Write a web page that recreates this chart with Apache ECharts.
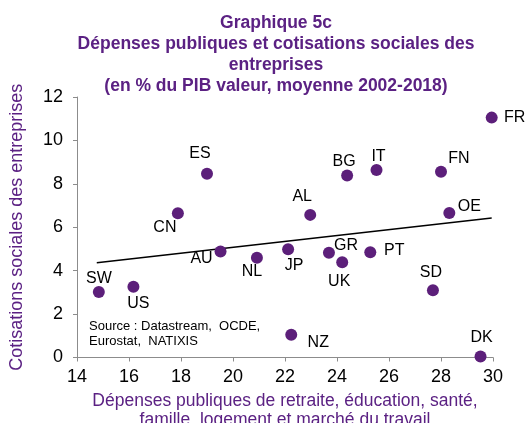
<!DOCTYPE html>
<html>
<head>
<meta charset="utf-8">
<script src="https://cdn.jsdelivr.net/npm/echarts@6/dist/echarts.min.js"></script>
<style>
  html, body { margin: 0; padding: 0; background: #fff; }
  #main { width: 526px; height: 423px; }
</style>
</head>
<body>
<div id="main"></div>
<script>
const countries = ['SW', 'US', 'CN', 'ES', 'AU', 'NL', 'JP', 'NZ', 'AL', 'GR', 'UK', 'BG', 'PT', 'IT', 'SD', 'FN', 'OE', 'DK', 'FR'];
const depenses = [14.84, 16.17, 17.88, 19.0, 19.52, 20.92, 22.12, 22.24, 22.97, 23.69, 24.2, 24.39, 25.28, 25.52, 27.69, 28.0, 28.32, 29.52, 29.95];
const cotisations = [3.02, 3.26, 6.65, 8.46, 4.88, 4.6, 4.99, 1.05, 6.57, 4.83, 4.39, 8.38, 4.85, 8.64, 3.1, 8.56, 6.66, 0.05, 11.05];
// droite de tendance (début / fin)
const trendX = [14.76, 29.95];
const trendY = [4.37, 6.43];
const xTicks = [14, 16, 18, 20, 22, 24, 26, 28, 30];
const yTicks = [0, 2, 4, 6, 8, 10, 12];

// décalage des étiquettes (centre du texte par rapport au point)
const labelOffset = {
  SW: [0, -13], US: [5, 17], CN: [-13, 14], ES: [-7, -20], AU: [-19, 7],
  NL: [-5, 14], JP: [6, 16], NZ: [27, 8], AL: [-8, -18], GR: [17, -7],
  UK: [-3, 19], BG: [-3, -14], PT: [24, -2], IT: [2, -13], SD: [-2, -18],
  FN: [18, -13], OE: [20, -6], DK: [1, -19], FR: [23, 0]
};

const purple = '#5b2183';
const font = '"Liberation Sans", Arial, sans-serif';

const myChart = echarts.init(document.getElementById('main'));

const points = countries.map((c, i) => ({
  name: c,
  value: [depenses[i], cotisations[i]],
  label: {
    show: true,
    formatter: c,
    position: 'inside',
    offset: labelOffset[c],
    color: '#000',
    fontSize: 16,
    fontFamily: font
  }
}));

myChart.setOption({
  animation: false,
  backgroundColor: '#fff',
  title: {
    text: 'Graphique 5c\nDépenses publiques et cotisations sociales des\nentreprises\n(en % du PIB valeur, moyenne 2002-2018)',
    left: 271,
    top: 8,
    textAlign: 'center',
    textStyle: {
      color: purple,
      fontSize: 17.5,
      fontWeight: 'bold',
      fontFamily: font,
      lineHeight: 21
    }
  },
  grid: { left: 77, right: 33, top: 97, bottom: 65.5, outerBoundsMode: 'none' },
  xAxis: {
    type: 'value',
    min: 14, max: 30, interval: 2,
    name: 'Dépenses publiques de retraite, éducation, santé,\nfamille, logement et marché du travail',
    nameLocation: 'middle',
    nameGap: 28,
    nameTextStyle: { color: purple, fontSize: 17.5, fontFamily: font, lineHeight: 19 },
    axisLine: { lineStyle: { color: '#8c8c8c' } },
    axisTick: { show: true, length: 4, lineStyle: { color: '#8c8c8c' } },
    axisLabel: {
      color: '#000', fontSize: 18, fontFamily: font, margin: 11,
      formatter: v => xTicks.includes(v) ? String(v) : ''
    },
    splitLine: { show: false }
  },
  yAxis: {
    type: 'value',
    min: 0, max: 12, interval: 2,
    name: 'Cotisations sociales des entreprises',
    nameLocation: 'middle',
    nameGap: 51,
    nameTextStyle: { color: purple, fontSize: 18, fontFamily: font },
    axisLine: { show: true, lineStyle: { color: '#8c8c8c' } },
    axisTick: { show: true, length: 4, lineStyle: { color: '#8c8c8c' } },
    axisLabel: {
      color: '#000', fontSize: 18, fontFamily: font, margin: 14,
      formatter: v => yTicks.includes(v) ? String(v) : ''
    },
    splitLine: { show: false }
  },
  graphic: [
    {
      type: 'text',
      left: 89,
      top: 319,
      style: {
        text: 'Source : Datastream,  OCDE,\nEurostat,  NATIXIS',
        fill: '#000',
        font: '13px ' + font,
        lineHeight: 15
      }
    }
  ],
  series: [
    {
      name: 'Tendance',
      type: 'line',
      data: trendX.map((x, i) => [x, trendY[i]]),
      symbol: 'none',
      lineStyle: { color: '#000', width: 1.5 },
      z: 1
    },
    {
      name: 'Pays',
      type: 'scatter',
      data: points,
      symbolSize: 12,
      itemStyle: { color: '#5c1f7a', opacity: 1 },
      z: 2
    }
  ]
});
</script>
</body>
</html>
